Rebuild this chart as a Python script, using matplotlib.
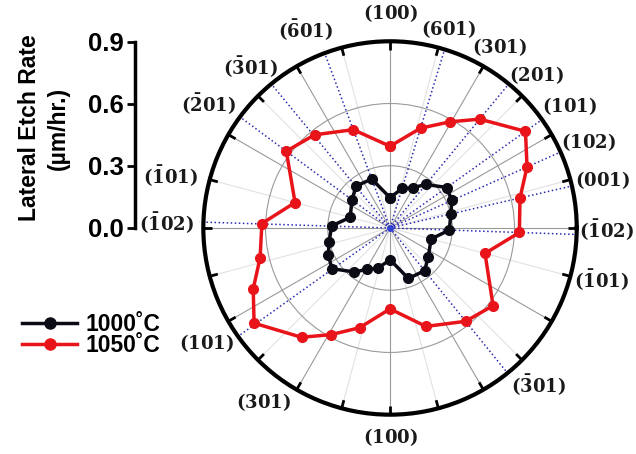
import numpy as np
import matplotlib
matplotlib.use('Agg')
import matplotlib.pyplot as plt
from matplotlib.lines import Line2D

# ---- data ----
angles_deg = [90, 73, 60.5, 50.5, 35.5, 24, 13, -2, -15, -37, -51, -70,
              -90, -107, -119, -129, -145, -156, -167, 178, 165, 143.5, 129, 110.5]
rate_1000 = [0.146, 0.199, 0.223, 0.272, 0.336, 0.326, 0.301, 0.286, 0.205, 0.231, 0.265, 0.259,
             0.153, 0.204, 0.228, 0.273, 0.342, 0.325, 0.302, 0.281, 0.199, 0.228, 0.260, 0.252]
rate_1050 = [0.394, 0.503, 0.588, 0.680, 0.802, 0.723, 0.643, 0.624, 0.474, 0.622, 0.579, 0.505,
             0.390, 0.503, 0.588, 0.678, 0.800, 0.722, 0.643, 0.618, 0.474, 0.622, 0.578, 0.506]
series_labels = ['1000˚C', '1050˚C']

plane_labels = [r'(100)', r'(601)', r'(301)', r'(201)', r'(101)', r'(102)', r'(001)',
                r'(\bar{1}02)', r'(\bar{1}01)', r'(\bar{3}01)', r'(100)', r'(301)', r'(101)',
                r'(\bar{1}02)', r'(\bar{1}01)', r'(\bar{2}01)', r'(\bar{3}01)', r'(\bar{6}01)']
plane_label_angles = [90, 73.6, 58.8, 46.2, 34.1, 23.5, 12.7, -0.5, -13.6, -46.6, -90,
                      233.9, 212.2, 178.5, 166.5, 145.5, 130.9, 113.2]
plane_label_radii = [1.035, 1.0, 1.022, 1.022, 1.044, 1.042, 1.051, 1.041, 1.05, 1.041, 1.01,
                     1.036, 1.044, 1.077, 1.09, 1.062, 1.03, 1.04]
ray_angles_deg = [73, 50.5, 35.5, 24, 13, -2, -51, 215.5, 178.2, 143.5, 129.5, 110.5]

r_ticks = [0.0, 0.3, 0.6, 0.9]
r_max = 0.9

plt.rcParams['mathtext.fontset'] = 'dejavuserif'

fig = plt.figure(figsize=(6.36, 4.54), dpi=100)

# ---- polar axes ----
ax = fig.add_axes([0.3197, 0.0866, 0.5871, 0.8225], projection='polar')
ax.set_ylim(0, r_max)
ax.set_yticks([0.3, 0.6])
ax.set_yticklabels([])
ax.set_xticks(np.deg2rad(np.arange(0, 360, 30)))
ax.set_xticks(np.deg2rad(np.arange(15, 360, 30)), minor=True)
ax.set_xticklabels([])
ax.set_xticklabels([], minor=True)
ax.grid(which='major', axis='x', color='#9a9a9a', lw=0.8)
ax.grid(which='minor', axis='x', color='#e2e2e2', lw=0.8)
ax.grid(which='major', axis='y', color='#9a9a9a', lw=0.8)
ax.tick_params(axis='x', which='both', length=0)
ax.spines['polar'].set_linewidth(3)

# inward tick marks on the outer circle
for a in np.arange(0, 360, 15):
    ax.plot([np.deg2rad(a)] * 2, [r_max * 0.955, r_max], color='black', lw=2,
            solid_capstyle='butt', zorder=5)

# blue dotted rays
for a in ray_angles_deg:
    ax.plot([0, np.deg2rad(a)], [0, r_max * 1.02], ls=':', color='#2b2bb0', lw=1.1,
            clip_on=False, zorder=2)
ax.plot([0], [0], 'o', color='#3040d0', ms=4, zorder=3)

th = np.deg2rad(np.r_[angles_deg, angles_deg[0]])
ax.plot(th, np.r_[rate_1050, rate_1050[0]], '-o', color='#e8141a', lw=2.5, ms=7, zorder=4)
ax.plot(th, np.r_[rate_1000, rate_1000[0]], '-o', color='#0b0b16', lw=2.5, ms=7, zorder=4)

for lab, a, r in zip(plane_labels, plane_label_angles, plane_label_radii):
    ax.text(np.deg2rad(a), r, r'$\mathbf{' + lab + '}$', ha='center', va='center',
            fontsize=13, color='#1a1a1a', clip_on=False)

# ---- radial scale on the left ----
lax = fig.add_axes([0.2123, 0.4978, 0.001, 0.4103])
lax.set_ylim(0, r_max)
lax.set_yticks(r_ticks)
lax.set_yticklabels([f'{v:.1f}' for v in r_ticks], fontfamily='Liberation Sans',
                    fontweight='bold', fontsize=18.5)
lax.set_xticks([])
for s in ['top', 'right', 'bottom']:
    lax.spines[s].set_visible(False)
lax.spines['left'].set_linewidth(2.5)
lax.tick_params(axis='y', length=6, width=2, pad=2)
lax.patch.set_visible(False)

fig.text(0.069, 1 - 128 / 454, 'Lateral Etch Rate\n(µm/hr.)', rotation=90, ha='center',
         va='center', multialignment='center', fontfamily='Liberation Sans', fontweight='bold',
         fontsize=16.5, linespacing=1.3)

handles = [Line2D([], [], color='#0b0b16', lw=2.5, marker='o', ms=8),
           Line2D([], [], color='#e8141a', lw=2.5, marker='o', ms=8)]
fig.legend(handles, series_labels, loc='center left', bbox_to_anchor=(0.035, 0.262),
           frameon=False, prop={'family': 'Liberation Sans', 'weight': 'bold', 'size': 16.5},
           handlelength=2.4, handletextpad=0.35, labelspacing=-0.1, borderpad=0,
           borderaxespad=0)

fig.savefig('out.png', dpi=100)
